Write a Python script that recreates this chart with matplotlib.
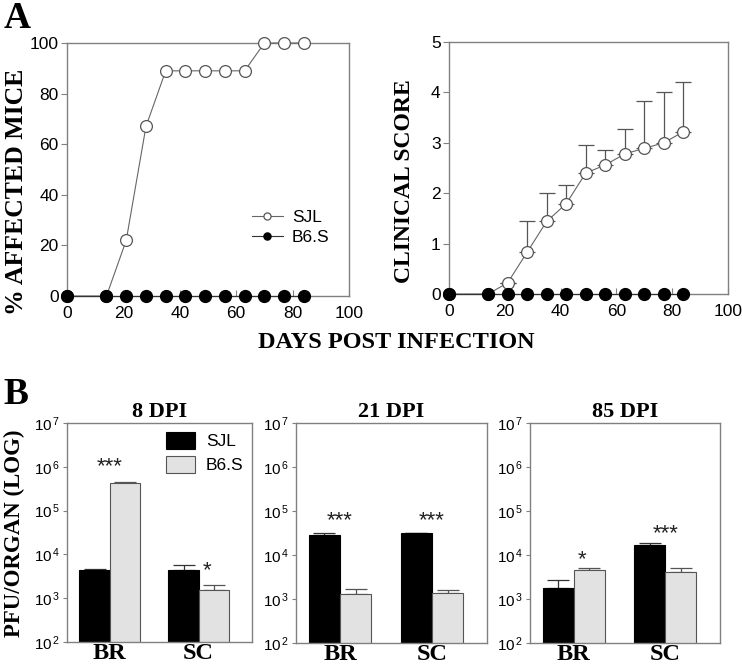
import numpy as np
import matplotlib
matplotlib.use("Agg")
import matplotlib.pyplot as plt

plt.rcParams["font.family"] = ["Liberation Sans", "DejaVu Sans"]
plt.rcParams["mathtext.fontset"] = "custom"
plt.rcParams["mathtext.rm"] = "Liberation Sans"
plt.rcParams["mathtext.it"] = "Liberation Sans:italic"
plt.rcParams["mathtext.bf"] = "Liberation Sans:bold"

# -------------------------------
# Data
# -------------------------------
days = [0, 14, 21, 28, 35, 42, 49, 56, 63, 70, 77, 84]
affected_sjl = [0, 0, 22, 67, 89, 89, 89, 89, 89, 100, 100, 100]
affected_b6s = [0, 0, 0, 0, 0, 0, 0, 0, 0, 0, 0, 0]
score_sjl = [0, 0, 0.22, 0.83, 1.44, 1.79, 2.40, 2.56, 2.78, 2.89, 3.00, 3.22]
score_sjl_err = [0, 0, 0, 0.61, 0.57, 0.38, 0.56, 0.29, 0.50, 0.94, 1.00, 0.99]
score_b6s = [0, 0, 0, 0, 0, 0, 0, 0, 0, 0, 0, 0]

organs = ["BR", "SC"]
dpi_titles = ["8 DPI", "21 DPI", "85 DPI"]
pfu_sjl = [[4.4e3, 4.4e3], [2.8e4, 3.1e4], [1.8e3, 1.7e4]]
pfu_sjl_err = [[0.3e3, 1.2e3], [0.4e4, 0.05e4], [0.9e3, 0.15e4]]
pfu_b6s = [[4.3e5, 1.5e3], [1.3e3, 1.37e3], [4.6e3, 4.2e3]]
pfu_b6s_err = [[0.1e5, 0.45e3], [0.36e3, 0.23e3], [0.4e3, 0.8e3]]
sig_labels = [["***", "*"], ["***", "***"], ["*", "***"]]
sig_logy = [[6.16, 3.79], [4.93, 4.93], [4.05, 4.65]]

W, H = 742, 668
fig = plt.figure(figsize=(W / 100, H / 100), dpi=100)


def px_axes(x0, y0, x1, y1):
    return fig.add_axes([x0 / W, 1 - y1 / H, (x1 - x0) / W, (y1 - y0) / H])


def px_text(x, y, s, **kw):
    return fig.text(x / W, 1 - y / H, s, **kw)


SPINE = "#808080"
serif_bold = dict(family="Liberation Serif", weight="bold")


def style_axes(ax):
    for s in ax.spines.values():
        s.set_color(SPINE)
        s.set_linewidth(1.0)


# -------------------------------
# Panel A
# -------------------------------
ax1 = px_axes(67, 43, 349, 296)
ax2 = px_axes(449, 42, 728, 294)

for ax in (ax1, ax2):
    style_axes(ax)
    ax.set_xlim(0, 100)
    ax.set_xticks(range(0, 101, 20))
    ax.tick_params(axis="x", direction="in", length=4, color=SPINE, labelsize=12.5, pad=7)
    ax.tick_params(axis="y", direction="out", length=4, color=SPINE, labelsize=12.5, pad=2)

ax1.plot(days, affected_sjl, "-o", color="#666666", lw=0.8, ms=8.5,
         mfc="white", mec="#555555", mew=0.9, label="SJL", clip_on=False, zorder=3)
ax1.plot(days, affected_b6s, "-o", color="#333333", lw=0.8, ms=8.5,
         mfc="black", mec="black", label="B6.S", clip_on=False, zorder=4)
ax1.set_ylim(0, 100)
ax1.set_yticks(range(0, 101, 20))
ax1.legend(loc="center left", bbox_to_anchor=(0.6, 0.27), frameon=False,
           fontsize=12.5, markerscale=0.6, handlelength=1.8, handletextpad=0.5,
           labelspacing=0.3)

ax2.errorbar(days, score_sjl, yerr=[np.zeros(len(days)), score_sjl_err],
             fmt="none", ecolor="#555555", elinewidth=0.9, capsize=6, capthick=0.9,
             zorder=2)
ax2.plot(days, score_sjl, "-o", color="#666666", lw=0.8, ms=8.5,
         mfc="white", mec="#555555", mew=0.9, clip_on=False, zorder=3)
ax2.plot(days, score_b6s, "-o", color="#333333", lw=0.8, ms=8.5,
         mfc="black", mec="black", clip_on=False, zorder=4)
ax2.set_ylim(0, 5)
ax2.set_yticks(range(0, 6))

px_text(17, 192, "% AFFECTED MICE", rotation=90, ha="center", va="center",
        fontsize=18.5, **serif_bold)
px_text(404, 181, "CLINICAL SCORE", rotation=90, ha="center", va="center",
        fontsize=17, **serif_bold)
px_text(396, 343, "DAYS POST INFECTION", ha="center", va="center",
        fontsize=17.5, **serif_bold)
px_text(4, 19, "A", ha="left", va="center", fontsize=27, **serif_bold)

# -------------------------------
# Panel B
# -------------------------------
b_boxes = [(67, 423, 252, 642), (296, 423, 487, 643), (530, 423, 720, 643)]
x = np.arange(len(organs))
width = 0.34

for i, box in enumerate(b_boxes):
    ax = px_axes(*box)
    style_axes(ax)
    ax.set_yscale("log")
    ax.set_ylim(1e2, 1e7)
    ax.set_xlim(-0.48, 1.6)
    ax.set_yticks([10.0 ** e for e in range(2, 8)])
    ax.set_yticklabels(["10$^{\\,%d}$" % e for e in range(2, 8)])
    ax.minorticks_off()
    ax.tick_params(axis="y", direction="out", length=3, color=SPINE, labelsize=11, pad=2)
    ax.tick_params(axis="x", length=0, pad=1)
    ax.set_xticks(x)
    ax.set_xticklabels(organs, fontsize=17.5, **serif_bold)

    ax.bar(x - width / 2, pfu_sjl[i], width, color="black", edgecolor="black",
           lw=0.8, label="SJL", zorder=2)
    ax.bar(x + width / 2, pfu_b6s[i], width, color="#e2e2e2", edgecolor="#555555",
           lw=0.8, label="B6.S", zorder=2)
    ax.errorbar(x - width / 2, pfu_sjl[i], yerr=[[0, 0], pfu_sjl_err[i]], fmt="none",
                ecolor="#333333", elinewidth=0.9, capsize=8, capthick=0.9, zorder=1)
    ax.errorbar(x + width / 2, pfu_b6s[i], yerr=[[0, 0], pfu_b6s_err[i]], fmt="none",
                ecolor="#555555", elinewidth=0.9, capsize=8, capthick=0.9, zorder=1)

    for j in range(len(organs)):
        dx = 6 if sig_labels[i][j] == "*" else 0
        ax.annotate(sig_labels[i][j], (x[j], 10 ** sig_logy[i][j]),
                    xytext=(dx, -9), textcoords="offset points",
                    ha="center", va="baseline", fontsize=16, color="#222222")

    ax.set_title(dpi_titles[i], fontsize=16, pad=4, **serif_bold)

    if i == 0:
        ax.legend(loc="upper right", frameon=False, fontsize=12.5,
                  handlelength=1.7, handleheight=1.2, handletextpad=0.6,
                  labelspacing=0.35, borderpad=0.2, borderaxespad=0.3)

px_text(14, 533, "PFU/ORGAN (LOG)", rotation=90, ha="center", va="center",
        fontsize=16.5, **serif_bold)
px_text(3, 394, "B", ha="left", va="center", fontsize=27, **serif_bold)

fig.savefig("out.png", dpi=100)
